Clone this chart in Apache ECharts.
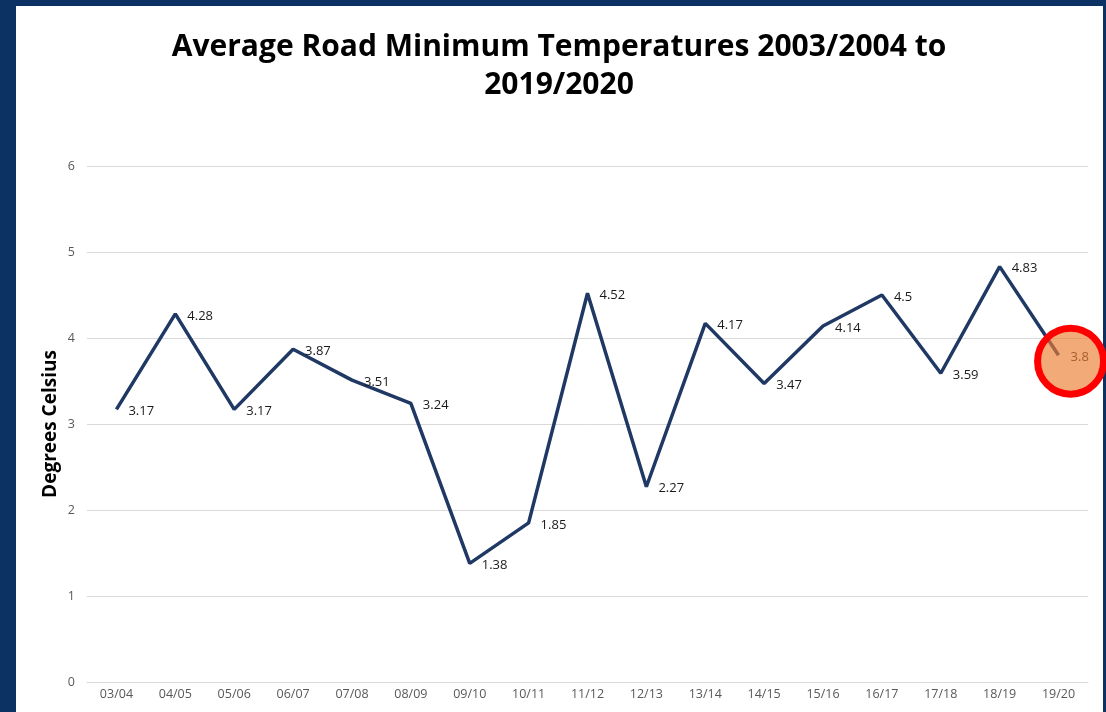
<!DOCTYPE html>
<html>
<head>
<meta charset="utf-8">
<script src="https://cdn.jsdelivr.net/npm/echarts@6/dist/echarts.min.js"></script>
<style>
  html, body { margin: 0; padding: 0; background: #fff; }
  #chart { width: 1106px; height: 712px; }
</style>
</head>
<body>
<div id="chart"></div>
<script>
// seasons and average road minimum temperature (deg C)
var seasons = ['03/04', '04/05', '05/06', '06/07', '07/08', '08/09', '09/10', '10/11', '11/12',
  '12/13', '13/14', '14/15', '15/16', '16/17', '17/18', '18/19', '19/20']
var roadMinTemps = [3.17, 4.28, 3.17, 3.87, 3.51, 3.24, 1.38, 1.85, 4.52, 2.27, 4.17, 3.47, 4.14, 4.5, 3.59, 4.83, 3.8]
// highlighted season
var highlightSeason = '19/20'
var highlightValue = 3.8

var frame = '#0b3262'
var myChart = echarts.init(document.getElementById('chart'))
var option = {
  backgroundColor: '#ffffff',
  animation: false,
  title: {
    text: 'Average Road Minimum Temperatures 2003/2004 to\n2019/2020',
    left: 554,
    textAlign: 'center',
    top: 23,
    textStyle: {
      fontFamily: 'Open Sans',
      fontWeight: 'bold',
      fontSize: 30,
      lineHeight: 38,
      color: '#000'
    }
  },
  graphic: [
    { type: 'rect', shape: { x: 0, y: 0, width: 16, height: 712 }, style: { fill: frame }, z: 0 },
    { type: 'rect', shape: { x: 0, y: 0, width: 1106, height: 6 }, style: { fill: frame }, z: 0 },
    { type: 'rect', shape: { x: 1103, y: 0, width: 3, height: 712 }, style: { fill: frame }, z: 0 }
  ],
  grid: { left: 87, right: 18, top: 166, bottom: 30 },
  xAxis: {
    type: 'category',
    data: seasons,
    boundaryGap: true,
    axisLine: { lineStyle: { color: '#d9d9d9', width: 1 } },
    axisTick: { show: false },
    axisLabel: { color: '#595959', fontFamily: 'Open Sans', fontSize: 12.5, margin: 6 }
  },
  yAxis: {
    type: 'value',
    min: 0,
    max: 6,
    interval: 1,
    name: 'Degrees Celsius',
    nameLocation: 'middle',
    nameGap: 27,
    nameMoveOverlap: false,
    nameTextStyle: { fontFamily: 'Open Sans', fontWeight: 'bold', fontSize: 19, color: '#000' },
    axisLine: { show: false },
    axisTick: { show: false },
    axisLabel: { color: '#595959', fontFamily: 'Open Sans', fontSize: 12.5, margin: 12 },
    splitLine: { lineStyle: { color: '#d9d9d9', width: 1 } }
  },
  series: [{
    type: 'line',
    data: roadMinTemps,
    symbol: 'circle',
    symbolSize: 0,
    showSymbol: true,
    lineStyle: { color: '#203864', width: 3.5 },
    itemStyle: { color: '#203864' },
    label: {
      show: true,
      position: 'right',
      distance: 12,
      offset: [0, 2],
      color: '#1a1a1a',
      fontFamily: 'Open Sans',
      fontSize: 13
    },
    markPoint: {
      silent: true,
      symbol: 'circle',
      symbolSize: 66,
      symbolOffset: [12, 6],
      itemStyle: { color: 'rgba(237,125,49,0.65)', borderColor: '#ff0000', borderWidth: 7 },
      label: { show: false },
      data: [{ coord: [highlightSeason, highlightValue] }]
    }
  }]
}
myChart.setOption(option)
</script>
</body>
</html>
